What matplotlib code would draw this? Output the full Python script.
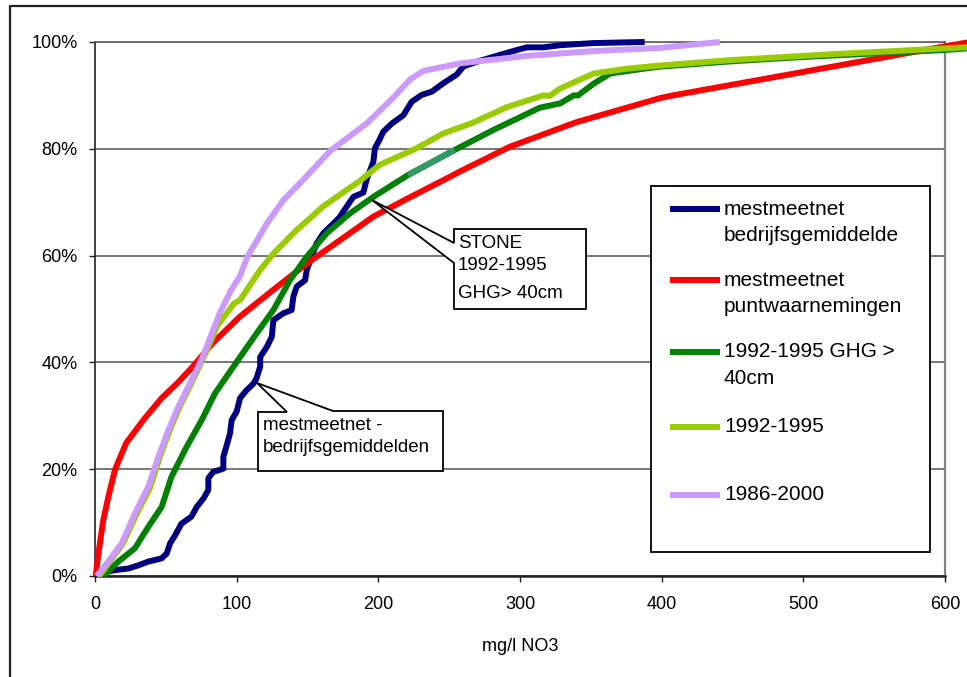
import matplotlib
matplotlib.use("Agg")
import matplotlib.pyplot as plt
import numpy as np
from matplotlib.lines import Line2D
from matplotlib.patches import Polygon, Rectangle
from matplotlib.ticker import PercentFormatter

plt.rcParams['font.family'] = ['Liberation Sans', 'DejaVu Sans']

# Cumulative frequency curves: nitrate concentration (mg/l NO3) vs. cumulative share (%)
bedrijf_x = [6, 14, 23.5, 30.6, 37.6, 47, 50.6, 53, 56.5, 61, 68, 72, 76.5, 80, 80, 83.5,
             90.6, 90.6, 93, 95.3, 96.5, 100, 102.4, 107, 111.8, 114, 116.6, 116.6, 121.3,
             124.8, 125.9, 133, 138.8, 140, 142.4, 148.3, 149.5, 153, 156.5, 161.2, 168.3,
             173, 177.7, 182.4, 189.4, 191.8, 196.5, 197.6, 201.2, 203.5, 209.4, 217.7,
             223.5, 230.7, 237.7, 246, 255.3, 260, 269.5, 286, 297.8, 304.8, 316.6, 328.4,
             351.9, 388]
bedrijf_y = [0.6, 1.1, 1.4, 2.0, 2.7, 3.3, 4.2, 6.1, 7.6, 9.8, 11.1, 13.0, 14.5, 16.1, 18.3,
             19.5, 20.1, 22.3, 24.5, 26.7, 29.2, 30.8, 33.3, 34.8, 36.0, 37.0, 39.2, 41.0,
             42.9, 44.8, 47.9, 49.2, 49.8, 52.3, 54.2, 55.4, 57.3, 59.8, 62.3, 64.2, 66.0,
             67.3, 69.2, 71.0, 71.8, 74.3, 77.6, 80.1, 81.9, 83.2, 84.7, 86.3, 88.8, 90.1,
             90.7, 92.3, 93.9, 95.4, 96.3, 97.6, 98.5, 99.0, 99.0, 99.4, 99.8, 100]

punt_x = [0.5, 2.4, 5.9, 9.4, 14.1, 22, 35, 47, 58.8, 70, 83, 102.4, 125.9, 149.5, 173,
          196.5, 220, 245, 258, 293, 340, 399, 408, 500, 600, 618]
punt_y = [0, 4.2, 10.5, 14.8, 19.9, 24.9, 29.5, 33.3, 36.3, 39.5, 43.6, 48.6, 53.6, 58.5,
          62.9, 67.3, 70.6, 74.0, 75.8, 80.4, 85.0, 89.5, 90.0, 94.4, 99.2, 100]

ghg_x = [5.9, 16.5, 28.2, 37.6, 47, 54, 63.5, 75.3, 84.7, 102.4, 114, 125.9, 137.6, 149.5,
         163.6, 180, 196.5, 221, 254, 281, 314, 328.4, 337.8, 341, 352, 363.7, 387.3, 399,
         450, 500, 600, 620]
ghg_y = [0, 2.7, 5.2, 9.2, 12.9, 18.6, 23.6, 29.2, 34.2, 41.0, 45.4, 49.8, 55.4, 59.8,
         64.2, 67.9, 71.0, 75.1, 79.8, 83.5, 87.7, 88.5, 90.0, 90.0, 92.2, 94.1, 95.0, 95.4,
         96.4, 97.2, 98.5, 98.9]

p9295_x = [3, 10.4, 19.8, 29.2, 38.8, 45.8, 52.8, 59.8, 69.2, 79, 86, 98, 102.4, 116.6, 126,
           142.4, 161, 177.7, 187, 201, 227, 246, 267, 290.6, 316.5, 321, 328.4, 352, 375.5,
           399, 448, 519, 615, 620]
p9295_y = [0, 2.7, 6.1, 11.5, 16.5, 22.3, 27.3, 31.7, 36.7, 42.3, 46.7, 51.0, 51.7, 57.3,
           60.4, 64.8, 69.2, 72.3, 74.0, 77.0, 80.1, 82.9, 84.9, 87.8, 90.0, 89.9, 91.3,
           94.1, 95.0, 95.6, 96.6, 97.7, 99.0, 99.1]

p8600_x = [1.2, 9.4, 18.8, 28.2, 37.6, 44.7, 51.8, 58.8, 68.2, 76, 88, 96, 102, 108, 111.8,
           121.3, 133, 147, 166, 192, 210.6, 222.4, 231.8, 257.8, 304.8, 352, 399, 441]
p8600_y = [0, 2.7, 6.1, 11.7, 16.7, 22.3, 27.3, 31.7, 36.7, 41.0, 49.2, 53.5, 56.0, 60.0,
           61.7, 66.0, 70.4, 74.2, 79.6, 84.8, 89.6, 93.0, 94.6, 96.0, 97.4, 98.3, 98.9, 100]

series_labels = ["mestmeetnet\nbedrijfsgemiddelde", "mestmeetnet\npuntwaarnemingen",
                 "1992-1995 GHG >\n40cm", "1992-1995", "1986-2000"]
series_colors = ["#000080", "#FF0000", "#008000", "#99CC00", "#CC99FF"]
highlight_range = (221, 254)
highlight_color = "#339966"

x_ticks = [0, 100, 200, 300, 400, 500, 600]
y_ticks = [0, 20, 40, 60, 80, 100]
x_label = "mg/l NO3"

W, H = 967, 677
fig = plt.figure(figsize=(W / 100, H / 100), dpi=100)
fig.patch.set_facecolor("white")


def fx(px):
    return px / W


def fy(py):
    return 1 - py / H


ax = fig.add_axes([fx(95), fy(576), fx(945) - fx(95), fy(42) - fy(576)])
ax.set_xlim(0, 600)
ax.set_ylim(0, 100)

series = [(bedrijf_x, bedrijf_y), (punt_x, punt_y), (ghg_x, ghg_y),
          (p9295_x, p9295_y), (p8600_x, p8600_y)]
for i, ((xs, ys), col) in enumerate(zip(series, series_colors)):
    ax.plot(xs, ys, color=col, lw=4.3, solid_capstyle="butt", solid_joinstyle="round",
            clip_on=False, zorder=3 + i * 0.1)

# short recoloured stretch of the GHG > 40cm curve
gx = np.array(ghg_x)
gy = np.array(ghg_y)
m = (gx >= highlight_range[0]) & (gx <= highlight_range[1])
ax.plot(gx[m], gy[m], color=highlight_color, lw=4.3, solid_capstyle="butt",
        clip_on=False, zorder=3.25)

# axes styling
ax.set_xticks(x_ticks)
ax.set_yticks(y_ticks)
ax.yaxis.set_major_formatter(PercentFormatter(xmax=100, decimals=0))
ax.tick_params(axis="both", direction="out", length=4.5, width=1, labelsize=13,
               color="#222222")
ax.tick_params(axis="y", pad=8)
ax.tick_params(axis="x", pad=10)
ax.grid(axis="y", color="#606060", lw=1.2, zorder=1)
ax.set_axisbelow(True)
for s in ["left", "bottom"]:
    ax.spines[s].set_color("#222222")
ax.spines["left"].set_linewidth(1.2)
ax.spines["bottom"].set_linewidth(1.8)
ax.spines["right"].set_color("#808080")
ax.spines["right"].set_linewidth(1.6)
ax.spines["top"].set_color("#606060")
ax.spines["top"].set_linewidth(1.2)
ax.set_xlabel(x_label, fontsize=13, labelpad=18)

# outer chart frame
fig.add_artist(Line2D([fx(10), fx(10), fx(W + 5)], [fy(H + 5), fy(6), fy(6)],
                      color="#222222", lw=1.6, transform=fig.transFigure))

# callout: STONE
stone_pts = [(454, 229), (586, 229), (586, 309), (454, 309), (454, 263), (372, 200),
             (454, 243)]
fig.add_artist(Polygon([(fx(a), fy(b)) for a, b in stone_pts], closed=True,
                       facecolor="white", edgecolor="black", lw=1.3,
                       transform=fig.transFigure, zorder=5))
for txt, yy in [("STONE", 243), ("1992-1995", 266), ("GHG> 40cm", 293)]:
    fig.text(fx(458), fy(yy), txt, fontsize=13.5, va="center", ha="left", zorder=6)

# callout: mestmeetnet - bedrijfsgemiddelden
bed_pts = [(258, 412), (287, 412), (257, 383), (333, 411), (443, 411), (443, 471),
           (258, 471)]
fig.add_artist(Polygon([(fx(a), fy(b)) for a, b in bed_pts], closed=True,
                       facecolor="white", edgecolor="black", lw=1.3,
                       transform=fig.transFigure, zorder=5))
for txt, yy in [("mestmeetnet -", 425), ("bedrijfsgemiddelden", 448)]:
    fig.text(fx(263), fy(yy), txt, fontsize=13.5, va="center", ha="left", zorder=6)

# legend
fig.add_artist(Rectangle((fx(651), fy(552)), fx(930) - fx(651), fy(186) - fy(552),
                         facecolor="white", edgecolor="black", lw=1.3,
                         transform=fig.transFigure, zorder=5))
legend_rows = [209, 280, 352, 427, 495]
for lab, col, yy in zip(series_labels, series_colors, legend_rows):
    fig.add_artist(Line2D([fx(670), fx(720)], [fy(yy), fy(yy)], color=col, lw=4.3,
                          solid_capstyle="butt", transform=fig.transFigure, zorder=6))
    for k, line in enumerate(lab.split("\n")):
        fig.text(fx(724), fy(yy + k * 26), line, fontsize=15, va="center", ha="left",
                 zorder=6)

fig.savefig("out.png", dpi=100)
